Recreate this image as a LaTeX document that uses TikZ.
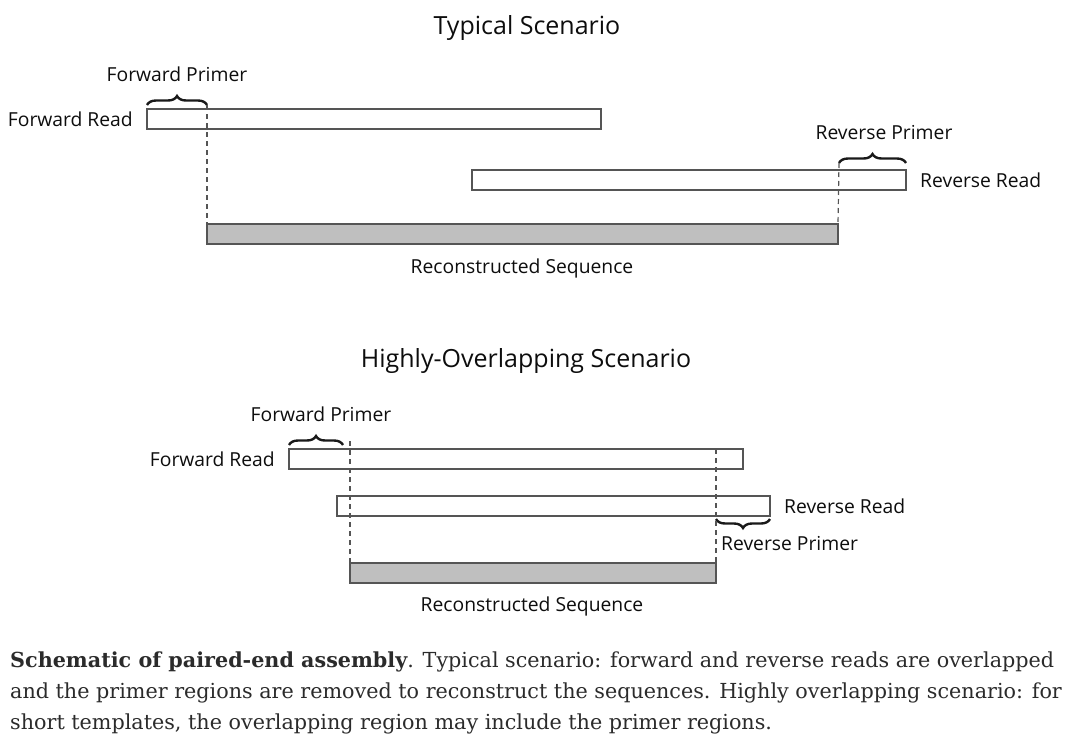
\documentclass[tikz,border=0pt]{standalone}
\usepackage{fontspec}
\setmainfont{DejaVu Serif}
\newfontfamily\labelfont{Open Sans}
\usetikzlibrary{decorations.pathreplacing}
\definecolor{boxline}{HTML}{555555}
\definecolor{reconfill}{HTML}{BFBFBF}
\definecolor{captext}{HTML}{2B2B2B}
\begin{document}
\begin{tikzpicture}[x=1pt,y=-1pt,
  readbox/.style={draw=boxline, line width=1.4pt, fill=white, inner sep=0pt, outer sep=0pt, minimum height=20pt, anchor=north west},
  reconbox/.style={draw=boxline, line width=1.4pt, fill=reconfill, inner sep=0pt, outer sep=0pt, minimum height=20pt, anchor=north west},
  lbl/.style={font=\labelfont\fontsize{19.3}{22}\selectfont, text=black!95, inner sep=0pt},
  title/.style={font=\labelfont\fontsize{25}{29}\selectfont, text=black!95, inner sep=0pt},
  primerbrace/.style={decorate, decoration={brace, amplitude=9pt}, line width=2.4pt, black!90},
  guide/.style={draw=boxline, line width=1.2pt, dash pattern=on 5pt off 4pt},
  captionline/.style={font=\fontsize{20.7}{24}\selectfont, text=captext, inner sep=0pt, anchor=base west}]
\useasboundingbox (0,0) rectangle (1073,755);
% ---------- Typical Scenario ----------
\node[title] (t1) at (527,28) {Typical Scenario};
\node[readbox, minimum width=454pt] (fr1) at (147,109) {};
\node[readbox, minimum width=434pt] (rr1) at (472,170) {};
\node[reconbox, minimum width=631pt] (rc1) at (207,224) {};
\node[lbl, anchor=east] (frl1) at (133,119) {Forward Read};
\node[lbl, anchor=west] (rrl1) at (920,180) {Reverse Read};
\node[lbl] (rcl1) at (522,268) {Reconstructed Sequence};
\coordinate (fp1a) at (147,105);
\coordinate (fp1b) at (207,105);
\coordinate (rp1a) at (839,163);
\coordinate (rp1b) at (906,163);
\draw[primerbrace] (fp1a) -- (fp1b);
\draw[primerbrace] (rp1a) -- (rp1b);
\node[lbl] (fpl1) at (177,74) {Forward Primer};
\node[lbl] (rpl1) at (884,133) {Reverse Primer};
\draw[guide] (fp1b) -- (rc1.north west);
\draw[guide] (rp1a) -- (rc1.north east);
% ---------- Highly-Overlapping Scenario ----------
\node[title] (t2) at (526,361) {Highly-Overlapping Scenario};
\node[readbox, minimum width=454pt] (fr2) at (289,449) {};
\node[readbox, minimum width=433pt] (rr2) at (337,496) {};
\node[reconbox, minimum width=366pt] (rc2) at (350,563) {};
\node[lbl, anchor=east] (frl2) at (275,459) {Forward Read};
\node[lbl, anchor=west] (rrl2) at (784,506) {Reverse Read};
\node[lbl] (rcl2) at (532,606) {Reconstructed Sequence};
\coordinate (fp2a) at (289,445);
\coordinate (fp2b) at (343,445);
\coordinate (rp2a) at (770,519);
\coordinate (rp2b) at (716,519);
\draw[primerbrace] (fp2a) -- (fp2b);
\draw[primerbrace] (rp2a) -- (rp2b);
\node[lbl] (fpl2) at (321,414) {Forward Primer};
\node[lbl, anchor=west] (rpl2) at (721,544) {Reverse Primer};
\coordinate (g2a) at (350,441);
\coordinate (g2b) at (716,449);
\draw[guide] (g2a) -- (rc2.north west);
\draw[guide] (g2b) -- (rc2.north east);
% ---------- Caption ----------
\node[captionline] (c1) at (10,667) {\textbf{Schematic of paired-end assembly}. Typical scenario: forward and reverse reads are overlapped};
\node[captionline] (c2) at (10,698) {and the primer regions are removed to reconstruct the sequences. Highly overlapping scenario: for};
\node[captionline] (c3) at (10,729) {short templates, the overlapping region may include the primer regions.};
\end{tikzpicture}
\end{document}
